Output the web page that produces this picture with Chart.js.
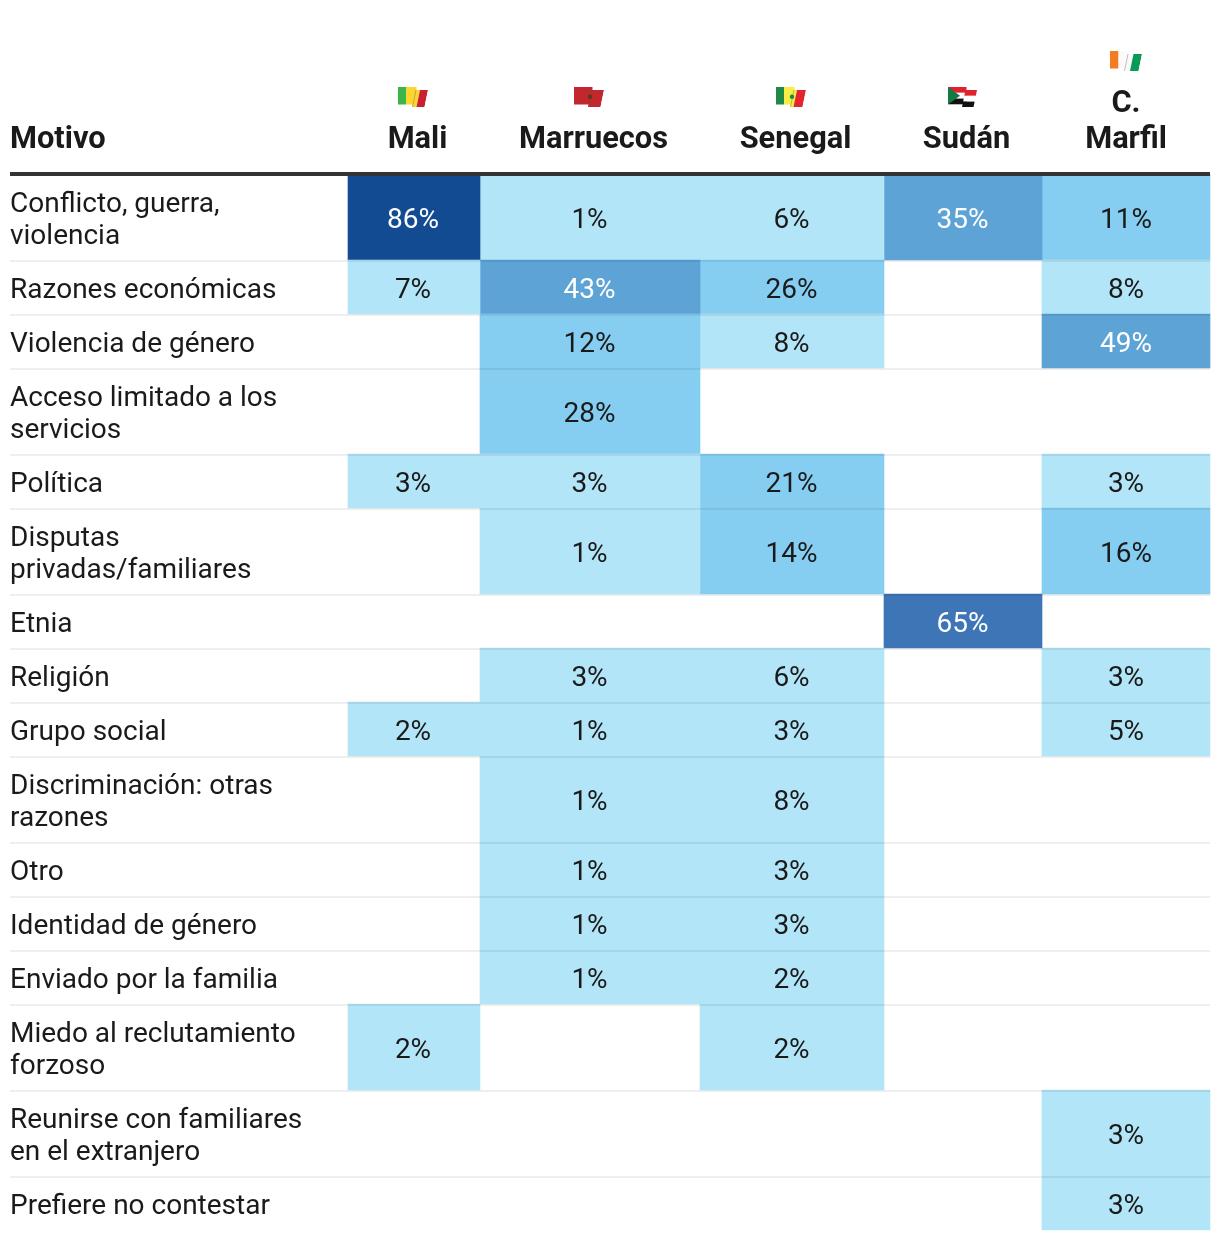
<!DOCTYPE html>
<html lang="es">
<head>
<meta charset="utf-8">
<title>Motivo</title>
<style>
html, body { margin: 0; padding: 0; background: #fff; }
canvas { display: block; }
</style>
</head>
<body>
<canvas id="chart" width="1220" height="1242"></canvas>
<script src="https://cdn.jsdelivr.net/npm/chart.js@4/dist/chart.umd.min.js"></script>
<script>
const countries = ['Mali', 'Marruecos', 'Senegal', 'Sudán', 'C.\nMarfil'];
const motives = [
    'Conflicto, guerra,\nviolencia',
    'Razones económicas',
    'Violencia de género',
    'Acceso limitado a los\nservicios',
    'Política',
    'Disputas\nprivadas/familiares',
    'Etnia',
    'Religión',
    'Grupo social',
    'Discriminación: otras\nrazones',
    'Otro',
    'Identidad de género',
    'Enviado por la familia',
    'Miedo al reclutamiento\nforzoso',
    'Reunirse con familiares\nen el extranjero',
    'Prefiere no contestar'
];

const mali =      [86, 7, null, null, 3, null, null, null, 2, null, null, null, null, 2, null, null];
const marruecos = [1, 43, 12, 28, 3, 1, null, 3, 1, 1, 1, 1, 1, null, null, null];
const senegal =   [6, 26, 8, null, 21, 14, null, 6, 3, 8, 3, 3, 2, 2, null, null];
const sudan =     [35, null, null, null, null, null, 65, null, null, null, null, null, null, null, null, null];
const marfil =    [11, 8, 49, null, 3, 16, null, 3, 5, null, null, null, null, null, 3, 3];
const seriesValues = [mali, marruecos, senegal, sudan, marfil];

const binLimits = [10, 30, 50, 75];
const binColors = ['#b3e5f8', '#85cdf1', '#5ea3d6', '#3e75b6', '#134b93'];

// ancho de columnas y filas, en pixeles de la pagina
const colEdges = [348, 480, 700, 884, 1042, 1210];
const headerBottom = 176;
const rowEdges = [headerBottom];
motives.forEach((m, i) => {
    rowEdges.push(rowEdges[i] + 22 + 32 * m.split('\n').length);
});

function binColor(v) {
    const i = binLimits.findIndex(l => v < l);
    return binColors[i === -1 ? binColors.length - 1 : i];
}

const datasets = seriesValues.map((values, c) => {
    const center = (colEdges[c] + colEdges[c + 1]) / 2;
    const data = [];
    const colors = [];
    values.forEach((v, r) => {
        if (v === null) return;
        data.push({ x: center, y: [rowEdges[r] - 2, rowEdges[r + 1] - 2] });
        colors.push(binColor(v));
    });
    return {
        label: countries[c].replace('\n', ' '),
        data: data,
        backgroundColor: colors,
        barThickness: colEdges[c + 1] - colEdges[c],
        borderWidth: 0,
        grouped: false
    };
});

// banderas: franjas del panel izquierdo y derecho
const flags = [
    { x: 398, y: 87, w: 30, stripes: [[0, 8, '#39b54a'], [8, 22, '#fcd533'], [22, 30, '#c9202f']] },
    { x: 574, y: 87, w: 30, stripes: [[0, 30, '#c1272d']], star: '#5a3a1e' },
    { x: 776, y: 87, w: 30, stripes: [[0, 8, '#1f8a43'], [8, 21, '#f8ec46'], [21, 30, '#e3262e']], star: '#1f8a43' },
    { x: 948, y: 87, w: 29, sudan: true },
    { x: 1110, y: 51, w: 32, stripes: [[0, 8.5, '#f47b20'], [8.5, 23.5, '#fafafa'], [23.5, 32, '#0a9a57']] }
];

function panelPath(ctx, f, right) {
    ctx.beginPath();
    if (right) {
        ctx.moveTo(f.x + 17.5, f.y + 3);
        ctx.lineTo(f.x + f.w, f.y + 3);
        ctx.lineTo(f.x + f.w - 3.5, f.y + 20);
        ctx.lineTo(f.x + 14, f.y + 20);
    } else {
        ctx.rect(f.x, f.y, 18.5, 17.5);
    }
    ctx.closePath();
}

function drawFlag(ctx, f) {
    [false, true].forEach(right => {
        ctx.save();
        panelPath(ctx, f, right);
        ctx.clip();
        if (f.sudan) {
            const top = f.y + (right ? 3 : 0);
            ctx.fillStyle = '#e0222f';
            ctx.fillRect(f.x, top, 30, 5.8);
            ctx.fillStyle = '#ffffff';
            ctx.fillRect(f.x, top + 5.8, 30, 5.8);
            ctx.fillStyle = '#111111';
            ctx.fillRect(f.x, top + 11.6, 30, 6);
            if (!right) {
                ctx.fillStyle = '#117a45';
                ctx.beginPath();
                ctx.moveTo(f.x, f.y);
                ctx.lineTo(f.x + 12, f.y + 8.75);
                ctx.lineTo(f.x, f.y + 17.5);
                ctx.fill();
            }
        } else {
            f.stripes.forEach(s => {
                ctx.fillStyle = s[2];
                ctx.beginPath();
                if (right) {
                    ctx.moveTo(f.x + s[0], f.y + 3);
                    ctx.lineTo(f.x + s[1], f.y + 3);
                    ctx.lineTo(f.x + s[1] - 3.5, f.y + 20);
                    ctx.lineTo(f.x + s[0] - 3.5, f.y + 20);
                } else {
                    ctx.rect(f.x + s[0], f.y, s[1] - s[0], 24);
                }
                ctx.fill();
            });
        }
        ctx.restore();
    });
    // pliegue
    ctx.strokeStyle = f.sudan ? 'rgba(90,70,40,0)' : 'rgba(90,80,60,0.35)';
    ctx.lineWidth = 1;
    ctx.beginPath();
    ctx.moveTo(f.x + 18, f.y + 3);
    ctx.lineTo(f.x + 14.5, f.y + 20);
    ctx.stroke();
    if (f.star) {
        ctx.fillStyle = f.star;
        ctx.beginPath();
        ctx.arc(f.x + 16, f.y + 9.7, 2.2, 0, Math.PI * 2);
        ctx.fill();
    }
}

const tablePlugin = {
    id: 'tablePlugin',
    afterDatasetsDraw(chart) {
        const ctx = chart.ctx;
        const xs = chart.scales.x;
        const ys = chart.scales.y;
        const right = xs.getPixelForValue(1210);
        const left = xs.getPixelForValue(10);
        ctx.save();

        // separadores de filas
        ctx.fillStyle = 'rgba(0,0,0,0.067)';
        rowEdges.slice(1, -1).forEach(e => {
            const y = ys.getPixelForValue(e - 2);
            ctx.fillRect(left, y, right - left, 2);
        });
        // linea de cabecera
        ctx.fillStyle = '#333333';
        ctx.fillRect(left, ys.getPixelForValue(172), right - left, 4);

        ctx.textBaseline = 'alphabetic';

        // cabecera
        ctx.fillStyle = '#1a1a1a';
        ctx.font = 'bold 30.8px Roboto';
        ctx.textAlign = 'left';
        ctx.fillText('Motivo', left, ys.getPixelForValue(148));
        ctx.textAlign = 'center';
        countries.forEach((name, c) => {
            const cx = (colEdges[c] + colEdges[c + 1]) / 2 + (c === 4 ? 0 : 3.5);
            const lines = name.split('\n');
            lines.forEach((line, i) => {
                const y = 148 - (lines.length - 1 - i) * 36;
                ctx.fillText(line, xs.getPixelForValue(cx), ys.getPixelForValue(y));
            });
        });

        // etiquetas de filas
        ctx.font = '28px Roboto';
        ctx.textAlign = 'left';
        motives.forEach((m, r) => {
            const mid = (rowEdges[r] + rowEdges[r + 1] - 2) / 2;
            const lines = m.split('\n');
            lines.forEach((line, i) => {
                const y = mid + 10 + (i - (lines.length - 1) / 2) * 32;
                ctx.fillText(line, left, ys.getPixelForValue(y));
            });
        });

        // valores de celdas
        ctx.textAlign = 'center';
        seriesValues.forEach((values, c) => {
            const shift = c === 4 ? 0 : (c === 0 ? 1 : 0.5);
            const cx = (colEdges[c] + colEdges[c + 1]) / 2 - shift;
            values.forEach((v, r) => {
                if (v === null) return;
                const mid = (rowEdges[r] + rowEdges[r + 1] - 2) / 2;
                ctx.fillStyle = v >= 30 ? '#ffffff' : '#1a1a1a';
                ctx.fillText(v + '%', xs.getPixelForValue(cx), ys.getPixelForValue(mid + 10));
            });
        });

        flags.forEach(f => drawFlag(ctx, f));
        ctx.restore();
    }
};

new Chart(document.getElementById('chart').getContext('2d'), {
    type: 'bar',
    data: { datasets: datasets },
    options: {
        responsive: false,
        animation: false,
        layout: { padding: 0 },
        plugins: {
            legend: { display: false },
            tooltip: { enabled: false }
        },
        scales: {
            x: { type: 'linear', min: 0, max: 1220, display: false, offset: false },
            y: { type: 'linear', min: 0, max: 1242, reverse: true, display: false }
        }
    },
    plugins: [tablePlugin]
});
</script>
</body>
</html>
